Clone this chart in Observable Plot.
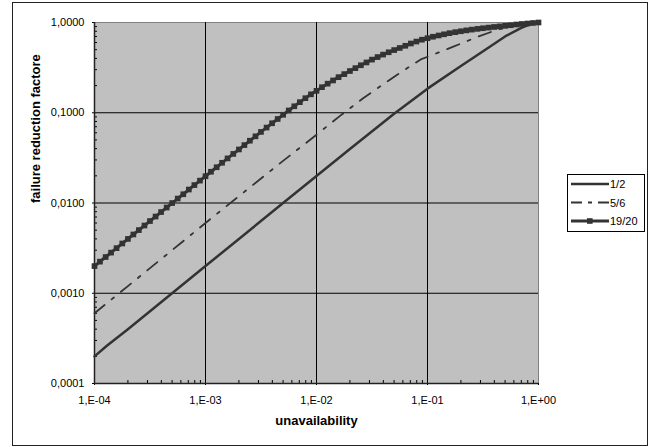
<!DOCTYPE html>
<html>
<head>
<meta charset="utf-8">
<script src="https://cdn.jsdelivr.net/npm/d3@7"></script>
<script src="https://cdn.jsdelivr.net/npm/@observablehq/plot@0.6"></script>
<style>
  html, body { margin: 0; padding: 0; background: white; }
  svg { display: block; }
</style>
</head>
<body>
<div id="chart"></div>
<script>
// ---- axis ticks / labels ----
const xTicks = [1e-4, 1e-3, 1e-2, 1e-1, 1];
const xTickLabels = ["1,E-04", "1,E-03", "1,E-02", "1,E-01", "1,E+00"];
const yTicks = [1e-4, 1e-3, 1e-2, 1e-1, 1];
const yTickLabels = ["0,0001", "0,0010", "0,0100", "0,1000", "1,0000"];
const minorMultipliers = [2, 3, 4, 5, 6, 7, 8, 9];
const seriesNames = ["1/2", "5/6", "19/20"];
const xTitle = "unavailability";
const yTitle = "failure reduction factore";

// ---- series 1/2 ----
const x12 = [1e-4, 1.3e-4, 2e-4, 5e-4, 1e-3, 2e-3, 5e-3, 1e-2, 2e-2, 5e-2, 0.1, 0.2, 0.3, 0.5, 0.7, 0.85, 1];
const y12 = [0.0002, 0.000264, 0.0004, 0.001, 0.002, 0.004, 0.00998, 0.0199, 0.0396, 0.0975, 0.185, 0.33, 0.46, 0.70, 0.87, 0.96, 1];

// ---- series 5/6 ----
const x56 = [1e-4, 2e-4, 5e-4, 1e-3, 2e-3, 5e-3, 1e-2, 0.0164, 0.0265, 0.0533, 0.087, 0.123, 0.171, 0.288, 0.436, 0.648, 0.85, 1];
const y56 = [0.0006, 0.0012, 0.0030, 0.0060, 0.0119, 0.0293, 0.057, 0.093, 0.146, 0.264, 0.39, 0.46, 0.54, 0.70, 0.84, 0.93, 0.985, 1];

// ---- series 19/20 (marker points) ----
const x1920 = [
  1.00e-4, 1.12e-4, 1.26e-4, 1.41e-4, 1.58e-4, 1.78e-4, 2.00e-4, 2.24e-4, 2.51e-4, 2.82e-4,
  3.16e-4, 3.55e-4, 3.98e-4, 4.47e-4, 5.01e-4, 5.62e-4, 6.31e-4, 7.08e-4, 7.94e-4, 8.91e-4,
  1.00e-3, 1.12e-3, 1.26e-3, 1.41e-3, 1.58e-3, 1.78e-3, 2.00e-3, 2.24e-3, 2.51e-3, 2.82e-3,
  3.16e-3, 3.55e-3, 3.98e-3, 4.47e-3, 5.01e-3, 5.62e-3, 6.31e-3, 7.08e-3, 7.94e-3, 8.91e-3,
  1.00e-2, 1.12e-2, 1.26e-2, 1.41e-2, 1.58e-2, 1.78e-2, 2.00e-2, 2.24e-2, 2.51e-2, 2.82e-2,
  3.16e-2, 3.55e-2, 3.98e-2, 4.47e-2, 5.01e-2, 5.62e-2, 6.31e-2, 7.08e-2, 7.94e-2, 8.91e-2,
  1.00e-1, 1.12e-1, 1.26e-1, 1.41e-1, 1.58e-1, 1.78e-1, 2.00e-1, 2.24e-1, 2.51e-1, 2.82e-1,
  3.16e-1, 3.55e-1, 3.98e-1, 4.47e-1, 5.01e-1, 5.62e-1, 6.31e-1, 7.08e-1, 7.94e-1, 8.91e-1,
  1.00
];
const y1920 = [
  0.00200, 0.00224, 0.00252, 0.00282, 0.00316, 0.00356, 0.00400, 0.00448, 0.00501, 0.00563,
  0.00631, 0.00708, 0.00794, 0.00891, 0.00999, 0.0112, 0.0125, 0.0141, 0.0158, 0.0177,
  0.0198, 0.0222, 0.0249, 0.0279, 0.0312, 0.0350, 0.0392, 0.0438, 0.0490, 0.0548,
  0.0613, 0.0685, 0.0765, 0.0853, 0.0950, 0.106, 0.118, 0.131, 0.145, 0.160,
  0.175, 0.192, 0.210, 0.228, 0.248, 0.268, 0.290, 0.312, 0.336, 0.361,
  0.388, 0.414, 0.441, 0.468, 0.495, 0.522, 0.552, 0.585, 0.615, 0.645,
  0.670, 0.695, 0.718, 0.740, 0.762, 0.782, 0.800, 0.818, 0.834, 0.850,
  0.864, 0.878, 0.892, 0.905, 0.918, 0.932, 0.950, 0.963, 0.975, 0.988,
  1.000
];

const toRows = (xs, ys) => xs.map((x, i) => ({x, y: ys[i]}));
const d12 = toRows(x12, y12);
const d56 = toRows(x56, y56);
const d1920 = toRows(x1920, y1920);

const minorX = xTicks.slice(0, 4).flatMap(d => minorMultipliers.map(m => d * m));
const minorY = yTicks.slice(0, 4).flatMap(d => minorMultipliers.map(m => d * m));

const lineColor = "#333333";
const dash56 = "13,9,3,9";
const font = "'Liberation Sans', Arial, sans-serif";

const chart = Plot.plot({
  width: 661,
  height: 447,
  marginLeft: 94,
  marginRight: 123,
  marginTop: 22,
  marginBottom: 64,
  style: {fontFamily: font, fontSize: "11px", background: "white", color: "black"},
  x: {type: "log", domain: [1e-4, 1], label: null},
  y: {type: "log", domain: [1e-4, 1], label: null},
  marks: [
    Plot.frame({fill: "#c0c0c0", stroke: "#808080"}),
    Plot.ruleX(xTicks.slice(1, 4), {stroke: "black", strokeWidth: 1}),
    Plot.ruleY(yTicks.slice(1, 4), {stroke: "black", strokeWidth: 1}),
    // minor ticks (inward)
    Plot.axisX({ticks: minorX, anchor: "bottom", tickSize: 3, dy: -3, tickFormat: () => "", label: null, stroke: "black"}),
    Plot.axisY({ticks: minorY, anchor: "left", tickSize: 3, dx: 3, tickFormat: () => "", label: null, stroke: "black"}),
    // major ticks + labels
    Plot.axisX({ticks: xTicks, anchor: "bottom", tickSize: 2, tickPadding: 11, tickFormat: d => xTickLabels[xTicks.indexOf(d)], label: null, fontSize: 11}),
    Plot.axisY({ticks: yTicks, anchor: "left", tickSize: 2, tickPadding: 8, tickFormat: d => yTickLabels[yTicks.indexOf(d)], label: null, fontSize: 11}),
    // axis lines
    Plot.ruleX([1e-4], {stroke: "#222", strokeWidth: 1.5}),
    Plot.ruleY([1e-4], {stroke: "#222", strokeWidth: 1.5}),
    // series
    Plot.line(d12, {x: "x", y: "y", stroke: lineColor, strokeWidth: 2.5}),
    Plot.line(d56, {x: "x", y: "y", stroke: lineColor, strokeWidth: 1.8, strokeDasharray: dash56}),
    Plot.line(d1920, {x: "x", y: "y", stroke: lineColor, strokeWidth: 3}),
    Plot.dot(d1920, {x: "x", y: "y", symbol: "square", r: 3.2, fill: lineColor, stroke: null}),
    // titles
    Plot.text([xTitle], {text: d => d, frameAnchor: "bottom", dy: 41, fontWeight: "bold", fontSize: 13, fill: "black"}),
    Plot.text([yTitle], {text: d => d, frameAnchor: "left", dx: -59, rotate: -90, fontWeight: "bold", fontSize: 13, fill: "black"})
  ]
});

document.getElementById("chart").appendChild(chart);

// chart border and legend
const svg = d3.select(chart);
svg.append("rect")
  .attr("x", 12.5).attr("y", 2.5).attr("width", 635).attr("height", 443)
  .attr("fill", "none").attr("stroke", "#222").attr("stroke-width", 1);

const lg = svg.append("g");
lg.append("rect")
  .attr("x", 567.5).attr("y", 174.5).attr("width", 77).attr("height", 57)
  .attr("fill", "white").attr("stroke", "black").attr("stroke-width", 1);
const rowY = [184, 202.5, 221];
seriesNames.forEach((name, i) => {
  const y = rowY[i];
  const ln = lg.append("line")
    .attr("x1", 571).attr("x2", 609).attr("y1", y).attr("y2", y)
    .attr("stroke", lineColor);
  if (i === 0) ln.attr("stroke-width", 2.5);
  if (i === 1) ln.attr("stroke-width", 1.8).attr("stroke-dasharray", "11,6,4,6");
  if (i === 2) {
    ln.attr("stroke-width", 3);
    lg.append("rect").attr("x", 587).attr("y", y - 2.8).attr("width", 5.6).attr("height", 5.6).attr("fill", lineColor);
  }
  lg.append("text")
    .attr("x", 610).attr("y", y + 4)
    .attr("text-anchor", "start")
    .attr("font-family", font)
    .attr("font-size", 11)
    .attr("fill", "black")
    .text(name);
});
</script>
</body>
</html>
